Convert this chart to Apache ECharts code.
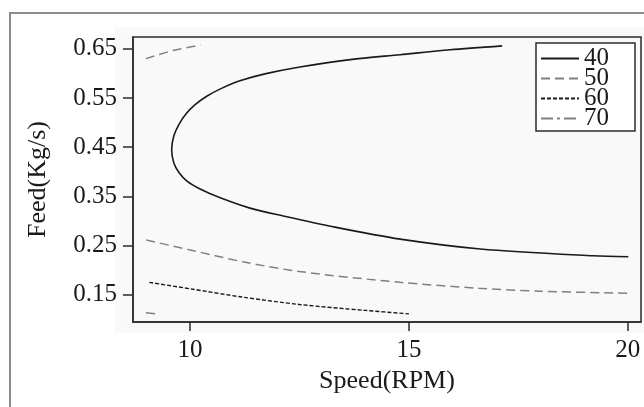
<!DOCTYPE html>
<html>
<head>
<meta charset="utf-8">
<script src="https://cdn.jsdelivr.net/npm/echarts@6/dist/echarts.min.js"></script>
<style>
html,body{margin:0;padding:0;background:#fff;}
#c{width:644px;height:407px;}
</style>
</head>
<body>
<div id="c"></div>
<script>
// Contour levels
const levels = ['40', '50', '60', '70'];
// Speed / Feed points along each contour line
const c40 = [[17.13,0.656],[15.94,0.648],[14.80,0.638],[13.66,0.628],[12.51,0.613],[11.71,0.599],[11.14,0.585],[10.73,0.570],[10.39,0.554],[10.11,0.536],[9.91,0.518],[9.75,0.497],[9.63,0.473],[9.58,0.444],[9.63,0.418],[9.75,0.398],[9.93,0.381],[10.23,0.365],[10.69,0.347],[11.37,0.326],[12.13,0.310],[13.27,0.288],[14.80,0.263],[16.63,0.243],[19.21,0.229],[20.01,0.227]];
const c50a = [[8.99,0.630],[9.61,0.6465],[10.24,0.6575]];
const c50b = [[9.0,0.261],[10.0,0.241],[11.2,0.217],[12.5,0.197],[14.8,0.175],[16.6,0.163],[18.0,0.157],[20.0,0.153]];
const c60 = [[9.07,0.175],[10.0,0.162],[11.2,0.145],[12.5,0.130],[14.0,0.118],[15.0,0.111]];
const c70 = [[8.99,0.113],[9.2,0.111]];
const xTicks = [10, 15, 20];
const yTicks = [0.15, 0.25, 0.35, 0.45, 0.55, 0.65];

const FONT = '"Liberation Serif", "DejaVu Serif", serif';
const chart = echarts.init(document.getElementById('c'), null, {renderer: 'canvas'});

const styles = {
  '40': {color: '#1a1a1a', type: 'solid', width: 1.6},
  '50': {color: '#808080', type: [9, 5], width: 1.5},
  '60': {color: '#1a1a1a', type: [4, 2], width: 1.4},
  '70': {color: '#808080', type: [12, 4, 3, 4], width: 1.5}
};
function ser(name, data) {
  return {
    name: name, type: 'line', data: data, showSymbol: false, symbol: 'none',
    smooth: 0.3, silent: true, animation: false,
    lineStyle: styles[name], itemStyle: {color: styles[name].color}
  };
}

chart.setOption({
  animation: false,
  backgroundColor: '#ffffff',
  graphic: [
    {type: 'rect', shape: {x: 115, y: 27, width: 540, height: 306}, style: {fill: '#f9f9f9'}, z: -10},
    {type: 'polyline', shape: {points: [[10, 410], [10, 13], [650, 13]]}, style: {stroke: '#8c8c8c', lineWidth: 2, fill: null}, z: -5}
  ],
  grid: {left: 133, top: 37, width: 508, height: 285, show: true, borderColor: '#2b2b2b', borderWidth: 1.5, backgroundColor: 'transparent'},
  legend: {
    show: true,
    orient: 'vertical', left: 536, top: 43,
    data: levels,
    itemWidth: 38, itemHeight: 14, itemGap: -5,
    padding: [3, 26, 0, 4],
    borderColor: '#2b2b2b', borderWidth: 1.5,
    backgroundColor: '#ffffff',
    itemStyle: {color: 'rgba(0,0,0,0)', borderColor: 'rgba(0,0,0,0)', borderWidth: 0, opacity: 0},
    textStyle: {fontFamily: FONT, fontSize: 25, color: '#1a1a1a'}
  },
  xAxis: {
    type: 'value', min: 8.697, max: 20.30,
    name: 'Speed(RPM)', nameLocation: 'middle', nameGap: 46,
    nameTextStyle: {fontFamily: FONT, fontSize: 26, color: '#1a1a1a'},
    axisLine: {show: true, lineStyle: {color: '#2b2b2b', width: 1.5}},
    axisTick: {show: true, length: 9, customValues: xTicks, lineStyle: {color: '#2b2b2b', width: 1.5}},
    axisLabel: {customValues: xTicks, fontFamily: FONT, fontSize: 25, color: '#1a1a1a', margin: 16},
    splitLine: {show: false}
  },
  yAxis: {
    type: 'value', min: 0.0944, max: 0.674,
    name: 'Feed(Kg/s)', nameLocation: 'middle', nameGap: 82, nameRotate: 90,
    nameTextStyle: {fontFamily: FONT, fontSize: 26, color: '#1a1a1a'},
    axisLine: {show: true, lineStyle: {color: '#2b2b2b', width: 1.5}},
    axisTick: {show: true, length: 10, customValues: yTicks, lineStyle: {color: '#2b2b2b', width: 1.5}},
    axisLabel: {customValues: yTicks, fontFamily: FONT, fontSize: 25, color: '#1a1a1a', margin: 16,
      formatter: v => v.toFixed(2)},
    splitLine: {show: false}
  },
  series: [
    ser('40', c40),
    ser('50', c50a),
    ser('50', c50b),
    ser('60', c60),
    ser('70', c70)
  ]
});
</script>
</body>
</html>
